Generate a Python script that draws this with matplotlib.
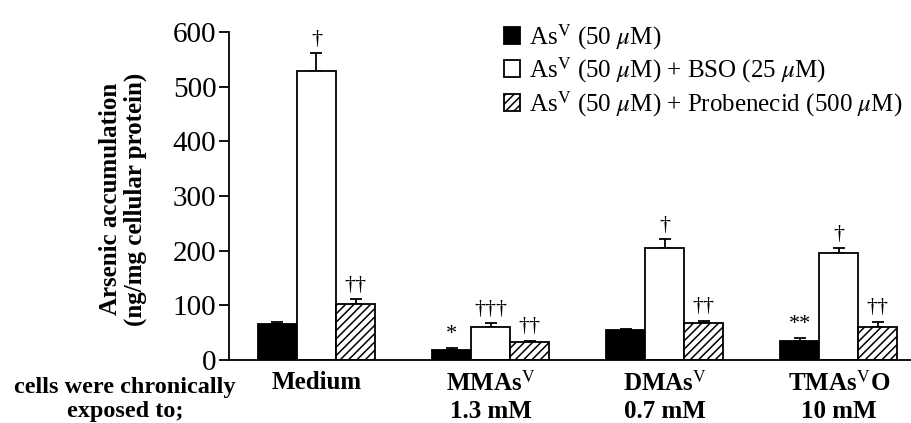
import numpy as np
import matplotlib
matplotlib.use("Agg")
import matplotlib.pyplot as plt

plt.rcParams['font.family'] = ['Liberation Serif', 'DejaVu Serif']
plt.rcParams['mathtext.fontset'] = 'stix'
plt.rcParams['hatch.linewidth'] = 1.1

# data
groups = ['Medium', 'MMAs$^{\\mathrm{V}}$\n1.3 mM', 'DMAs$^{\\mathrm{V}}$\n0.7 mM', 'TMAs$^{\\mathrm{V}}$O\n10 mM']
as_only = [65, 18, 54, 34]
as_only_err = [5, 3, 3, 6]
as_bso = [528, 60, 205, 196]
as_bso_err = [33, 7, 16, 9]
as_prob = [102, 32, 67, 60]
as_prob_err = [9, 3, 5, 10]

marks_only = ['', '*', '', '**']
marks_bso = ['\u2020', '\u2020\u2020\u2020', '\u2020', '\u2020']
marks_prob = ['\u2020\u2020', '\u2020\u2020', '\u2020\u2020', '\u2020\u2020']

labels = ['As$^{\\mathrm{V}}$ (50 $\\mu$M)',
          'As$^{\\mathrm{V}}$ (50 $\\mu$M) + BSO (25 $\\mu$M)',
          'As$^{\\mathrm{V}}$ (50 $\\mu$M) + Probenecid (500 $\\mu$M)']

fig = plt.figure(figsize=(9.12, 4.23), dpi=100)
ax = fig.add_axes([0.251, 0.149, 0.749, 0.775])

x = np.arange(len(groups))
w = 0.224
series = [(as_only, as_only_err, 'black', '', marks_only),
          (as_bso, as_bso_err, 'white', '', marks_bso),
          (as_prob, as_prob_err, 'white', '////', marks_prob)]

handles = []
for i, (vals, errs, col, hatch, marks) in enumerate(series):
    xs = x + (i - 1) * w
    b = ax.bar(xs, vals, w, color=col, edgecolor='black', hatch=hatch, linewidth=1.3, zorder=2)
    handles.append(b)
    ax.errorbar(xs, vals, yerr=[np.zeros(len(vals)), errs], fmt='none', ecolor='black',
                elinewidth=1.3, capsize=4, capthick=1.3, zorder=1)
    for xi, v, e, m in zip(xs, vals, errs, marks):
        if m:
            ax.text(xi, v + e + 8, m, ha='center', va='bottom', fontsize=16)

ax.set_xlim(-0.503, 3.42)
ax.set_ylim(0, 600)
ax.set_yticks(range(0, 601, 100))
ax.tick_params(axis='y', labelsize=21, length=7, width=1.3, direction='out', pad=2)
ax.tick_params(axis='x', length=0, labelsize=18, pad=8)
ax.set_xticks(x)
ax.set_xticklabels(groups, fontweight='bold', linespacing=1.2)
ax.spines['top'].set_visible(False)
ax.spines['right'].set_visible(False)
ax.spines['left'].set_linewidth(1.3)
ax.spines['bottom'].set_linewidth(1.3)

ax.set_ylabel('Arsenic accumulation\n(ng/mg cellular protein)', fontsize=18, fontweight='bold',
              linespacing=1.1)
ax.yaxis.set_label_coords(-0.12, 0.49)
fig.text(0.137, 0.056, 'cells were chronically\nexposed to;', ha='center', va='center',
         fontsize=17.5, fontweight='bold', linespacing=1.2)

ax.legend(handles, labels, loc='upper left', bbox_to_anchor=(0.37, 1.10), frameon=False,
          fontsize=18, handlelength=0.65, handleheight=0.65, handletextpad=0.35, labelspacing=0.15)

fig.savefig('out.png', dpi=100)
